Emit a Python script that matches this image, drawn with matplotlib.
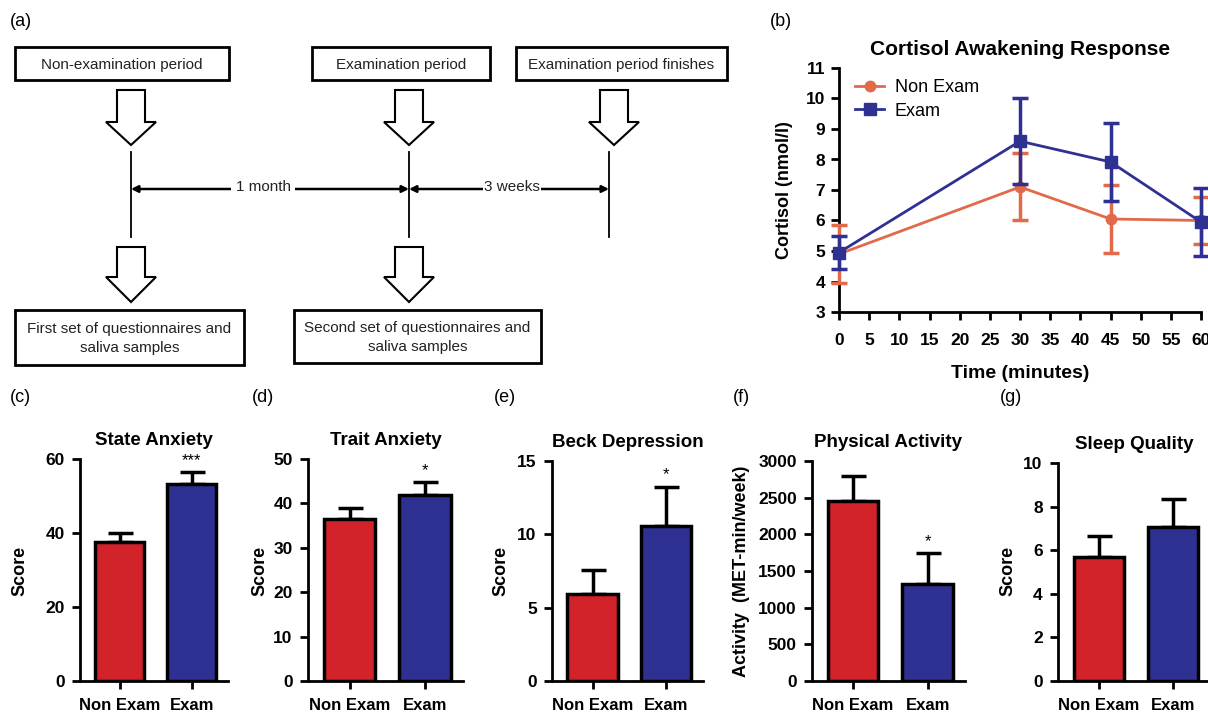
import matplotlib
matplotlib.use("Agg")
import matplotlib.pyplot as plt
from matplotlib.patches import Polygon, Rectangle
from matplotlib.lines import Line2D

plt.rcParams['font.family'] = ['Liberation Sans', 'DejaVu Sans']

# ---- data ----
times = [0, 30, 45, 60]
cortisol_non_exam = [4.9, 7.1, 6.05, 6.0]
cortisol_non_exam_err = [0.95, 1.1, 1.1, 0.78]
cortisol_exam = [4.95, 8.6, 7.92, 5.95]
cortisol_exam_err = [0.55, 1.4, 1.28, 1.12]

groups = ["Non Exam", "Exam"]
state_anxiety = [37.6, 53.2]
state_anxiety_err = [2.4, 3.2]
trait_anxiety = [36.4, 41.8]
trait_anxiety_err = [2.6, 3.0]
beck_depression = [5.9, 10.6]
beck_depression_err = [1.67, 2.65]
physical_activity = [2450, 1318]
physical_activity_err = [350, 423]
sleep_quality = [5.7, 7.08]
sleep_quality_err = [0.95, 1.25]

RED = "#D2232A"
BLUE = "#2E3192"
ORANGE = "#E2694A"
W, H = 1208, 712

fig = plt.figure(figsize=(W / 100, H / 100), dpi=100)


def px_axes(left, right, top, bottom):
    return fig.add_axes([left / W, 1 - bottom / H, (right - left) / W, (bottom - top) / H])


# ---- (a) study design diagram, drawn in pixel coordinates ----
diag = fig.add_axes([0, 0, 1, 1], zorder=0)
diag.set_xlim(0, W)
diag.set_ylim(H, 0)
diag.axis("off")
dfont = dict(fontsize=11, color="#222222")


def box(x0, x1, y0, y1, text):
    diag.add_patch(Rectangle((x0, y0), x1 - x0, y1 - y0, fill=False, lw=2, ec="black"))
    diag.text((x0 + x1) / 2, (y0 + y1) / 2 + 1, text, ha="center", va="center",
              linespacing=1.5, **dfont)


def hollow_arrow(cx, top, base, tip):
    pts = [(cx - 14, top), (cx + 14, top), (cx + 14, base), (cx + 25, base),
           (cx, tip), (cx - 25, base), (cx - 14, base)]
    diag.add_patch(Polygon(pts, closed=True, fill=False, lw=1.5, ec="black"))


box(15, 229, 47, 80, "Non-examination period")
box(312, 490, 47, 80, "Examination period")
box(516, 727, 47, 80, "Examination period finishes")
box(15, 244, 310, 365, "First set of questionnaires and\nsaliva samples")
box(294, 541, 310, 363, "Second set of questionnaires and\nsaliva samples")

for cx in (131, 409, 614):
    hollow_arrow(cx, 90, 122, 145)
for cx in (131, 409):
    hollow_arrow(cx, 247, 277, 302)
for cx in (131, 409, 609):
    diag.plot([cx, cx], [152, 237], color="black", lw=1.3)

for x0, x1 in ((131, 409), (409, 609)):
    diag.annotate("", xy=(x1, 189), xytext=(x0, 189),
                  arrowprops=dict(arrowstyle="<|-|>", lw=1.8, color="black",
                                  shrinkA=0, shrinkB=0, mutation_scale=10))
diag.text(263, 187, "1 month", ha="center", va="center",
          bbox=dict(fc="white", ec="none", pad=3), **dfont)
diag.text(512, 187, "3 weeks", ha="center", va="center",
          bbox=dict(fc="white", ec="none", pad=0.5), **dfont)

# panel labels
for lbl, x, y in [("(a)", 10, 22), ("(b)", 770, 22), ("(c)", 10, 398), ("(d)", 252, 398),
                  ("(e)", 494, 398), ("(f)", 733, 398), ("(g)", 1000, 398)]:
    fig.text(x / W, 1 - y / H, lbl, fontsize=13, va="center", ha="left")

# ---- (b) cortisol awakening response ----
axb = px_axes(839, 1201, 68, 312)
axb.errorbar(times, cortisol_non_exam, yerr=cortisol_non_exam_err, color=ORANGE,
             marker="o", ms=7.5, lw=2, elinewidth=2.5, capsize=6, capthick=2.5,
             clip_on=False, zorder=3)
axb.errorbar(times, cortisol_exam, yerr=cortisol_exam_err, color=BLUE,
             marker="s", ms=8.5, lw=2, elinewidth=2.5, capsize=6, capthick=2.5,
             clip_on=False, zorder=4)
axb.set_xlim(0, 60)
axb.set_ylim(3, 11)
axb.set_xticks(range(0, 61, 5))
axb.set_yticks(range(3, 12))
for s in ("top", "right"):
    axb.spines[s].set_visible(False)
for s in ("left", "bottom"):
    axb.spines[s].set_linewidth(2)
axb.tick_params(width=2, length=6, labelsize=12.5, pad=4)
axb.tick_params(axis="x", pad=9)
for t in axb.get_xticklabels() + axb.get_yticklabels():
    t.set_fontweight("bold")
axb.set_title("Cortisol Awakening Response", fontsize=15, fontweight="bold", pad=9)
axb.set_xlabel("Time (minutes)", fontsize=14, fontweight="bold", labelpad=12)
axb.set_ylabel("Cortisol (nmol/l)", fontsize=13, fontweight="bold", labelpad=9)
handles = [Line2D([], [], color=ORANGE, marker="o", ms=7.5, lw=2),
           Line2D([], [], color=BLUE, marker="s", ms=8.5, lw=2)]
axb.legend(handles, ["Non Exam", "Exam"], loc="upper left", bbox_to_anchor=(0.0, 1.02),
           frameon=False, fontsize=13, handlelength=1.6, handletextpad=0.6,
           labelspacing=0.35)

# ---- (c)-(g) bar panels ----
panels = [
    ("State Anxiety", state_anxiety, state_anxiety_err, "***", (0, 61, 20), 60,
     "Score", (80, 228, 459), 20),
    ("Trait Anxiety", trait_anxiety, trait_anxiety_err, "*", (0, 51, 10), 50,
     "Score", (308, 463, 459), 260),
    ("Beck Depression", beck_depression, beck_depression_err, "*", (0, 16, 5), 15,
     "Score", (552, 703, 461), 501),
    ("Physical Activity", physical_activity, physical_activity_err, "*", (0, 3001, 500), 3000,
     "Activity  (MET-min/week)", (812, 965, 461), 741),
    ("Sleep Quality", sleep_quality, sleep_quality_err, "", (0, 11, 2), 10,
     "Score", (1058, 1210, 463), 1008),
]

for title, vals, errs, star, (t0, t1, ts), ymax, ylab, (l, r, top), ylx in panels:
    ax = px_axes(l, r, top, 681)
    x = [0, 1]
    ax.bar(x, vals, width=0.68, color=[RED, BLUE], edgecolor="black", linewidth=2.5, zorder=3)
    ax.errorbar(x, vals, yerr=[[0, 0], errs], fmt="none", ecolor="black",
                elinewidth=2.5, capsize=9, capthick=2.5, zorder=2)
    if star:
        ax.annotate(star, xy=(1, vals[1] + errs[1]), xytext=(0, 3),
                    textcoords="offset points", ha="center", va="bottom", fontsize=12)
    ax.set_xlim(-0.55, 1.5)
    ax.set_ylim(0, ymax)
    ax.set_yticks(range(t0, t1, ts))
    ax.set_xticks(x)
    ax.set_xticklabels(groups)
    for s in ("top", "right"):
        ax.spines[s].set_visible(False)
    for s in ("left", "bottom"):
        ax.spines[s].set_linewidth(2)
    ax.tick_params(width=2, length=6, labelsize=12.5, pad=5)
    ax.tick_params(axis="x", labelsize=12, pad=6)
    for t in ax.get_xticklabels() + ax.get_yticklabels():
        t.set_fontweight("bold")
    ax.set_title(title, fontsize=13.5, fontweight="bold", pad=10)
    fig.text(ylx / W, 1 - 571 / H, ylab, rotation=90, ha="center", va="center",
             fontsize=13, fontweight="bold")

fig.savefig("out.png", dpi=100)
